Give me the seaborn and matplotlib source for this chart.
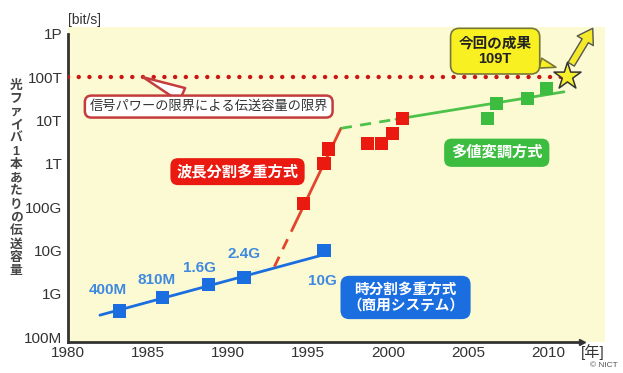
import matplotlib
matplotlib.use("Agg")
import matplotlib.pyplot as plt
from matplotlib.ticker import NullLocator
import seaborn as sns

# Time-division multiplexing (commercial systems)
tdm_years = [1983.2, 1985.9, 1988.8, 1991.0, 1996.0]
tdm_rates = [4e8, 8.1e8, 1.6e9, 2.4e9, 1e10]
tdm_labels = ["400M", "810M", "1.6G", "2.4G", "10G"]
tdm_label_offsets = [(-8, 15), (-4, 13), (-7, 12), (0, 17), (-1, -22)]
tdm_trend_years = [1982.0, 1996.0]
tdm_trend_rates = [3.2e8, 8e9]

# Wavelength-division multiplexing
wdm_years = [1994.7, 1996.0, 1996.3, 1998.7, 1999.6, 2000.3, 2000.9]
wdm_rates = [1.2e11, 1.0e12, 2.2e12, 3.0e12, 2.9e12, 5.0e12, 1.1e13]
wdm_dash_years = [1992.9, 1994.1]
wdm_dash_rates = [4.2e9, 3.5e10]
wdm_trend_years = [1994.1, 1997.06]
wdm_trend_rates = [3.5e10, 6.6e12]

# Multi-level modulation
mlm_years = [2006.2, 2006.8, 2008.7, 2009.9]
mlm_rates = [1.1e13, 2.5e13, 3.2e13, 5.4e13]
mlm_dash_years = [1997.06, 2000.5]
mlm_dash_rates = [6.6e12, 1.07e13]
mlm_trend_years = [2000.5, 2011.0]
mlm_trend_rates = [1.07e13, 4.6e13]

# Record result and the signal-power limit
record_year = [2011.2]
record_rate = [1.09e14]
record_label = "今回の成果\n109T"
limit_rate = 1e14
limit_span = [1980.0, 2011.7]

ytick_vals = [1e8, 1e9, 1e10, 1e11, 1e12, 1e13, 1e14, 1e15]
ytick_labels = ["100M", "1G", "10G", "100G", "1T", "10T", "100T", "1P"]
xtick_vals = [1980, 1985, 1990, 1995, 2000, 2005, 2010]

BLUE = "#1a6ee0"
BLUE_TXT = "#3f8ae0"
RED = "#ea1a10"
RED_LINE = "#e2452c"
GREEN = "#3dbd3f"
GREEN_LINE = "#4cc24a"
DOT_RED = "#cc1616"
AXIS = "#333333"
PANEL = "#fcfad2"

sns.set_style("white")
plt.rcParams["font.family"] = ["Liberation Sans", "Noto Sans CJK JP"]

fig = plt.figure(figsize=(6.23, 3.73), dpi=100)
ax = fig.add_axes([0.109, 0.0831, 0.862, 0.8445])
ax.set_facecolor(PANEL)
ax.set_yscale("log")
ax.set_xlim(1980, 2013.56)
ax.set_ylim(10 ** 7.885, 10 ** 15.16)

# trend lines
sns.lineplot(x=tdm_trend_years, y=tdm_trend_rates, color=BLUE, lw=2, ax=ax, zorder=3)
sns.lineplot(x=wdm_dash_years, y=wdm_dash_rates, color=RED_LINE, lw=2,
             linestyle=(0, (4, 3)), ax=ax, zorder=3)
sns.lineplot(x=wdm_trend_years, y=wdm_trend_rates, color=RED_LINE, lw=2, ax=ax, zorder=3)
sns.lineplot(x=mlm_dash_years, y=mlm_dash_rates, color=GREEN_LINE, lw=2,
             linestyle=(0, (4, 3)), ax=ax, zorder=3)
sns.lineplot(x=mlm_trend_years, y=mlm_trend_rates, color=GREEN_LINE, lw=2, ax=ax, zorder=3)

# signal-power limit
ax.hlines(limit_rate, limit_span[0], limit_span[1], colors=DOT_RED, lw=3.2,
          linestyles=(0, (0.01, 2.4)), capstyle="round", zorder=3)

# measured points
sns.scatterplot(x=tdm_years, y=tdm_rates, marker="s", s=90, color=BLUE,
                edgecolor="none", ax=ax, zorder=4)
sns.scatterplot(x=wdm_years, y=wdm_rates, marker="s", s=90, color=RED,
                edgecolor="none", ax=ax, zorder=4)
sns.scatterplot(x=mlm_years, y=mlm_rates, marker="s", s=90, color=GREEN,
                edgecolor="none", ax=ax, zorder=4)

for yr, rate, lab, off in zip(tdm_years, tdm_rates, tdm_labels, tdm_label_offsets):
    ax.annotate(lab, (yr, rate), xytext=off, textcoords="offset points",
                ha="center", va="center", fontsize=11, fontweight="bold",
                color=BLUE_TXT, zorder=5)

# upward arrow and record star
ax.annotate("", xy=(2012.8, 10 ** 15.13), xytext=(2011.45, 10 ** 14.3),
            arrowprops=dict(arrowstyle="simple,head_length=0.7,head_width=0.9,tail_width=0.35",
                            mutation_scale=15, fc="#f4ea2a", ec="#555555", lw=1,
                            shrinkA=0, shrinkB=0),
            annotation_clip=False, zorder=5)
sns.scatterplot(x=record_year, y=record_rate, marker="*", s=420, color="#f7ef2c",
                edgecolor="#333333", linewidth=1.1, ax=ax, zorder=6)

ax.annotate(record_label, xy=(2010.5, 1.7e14), xytext=(2006.7, 4e14),
            ha="center", va="center", fontsize=10.5, fontweight="bold", color="#222222",
            linespacing=1.15,
            bbox=dict(boxstyle="round,pad=0.55,rounding_size=0.6", fc="#f8f020",
                      ec="#77773a", lw=1.2),
            arrowprops=dict(arrowstyle="wedge,tail_width=0.7,shrink_factor=0.5",
                            fc="#f8f020", ec="#77773a", lw=1.2, shrinkA=0, shrinkB=0),
            zorder=6)

ax.annotate("信号パワーの限界による伝送容量の限界", xy=(1984.7, limit_rate),
            xytext=(1988.8, 2.1e13), ha="center", va="center", fontsize=9.5,
            color="#333333",
            bbox=dict(boxstyle="round,pad=0.35,rounding_size=0.5", fc="white",
                      ec="#c43c3c", lw=1.8),
            arrowprops=dict(arrowstyle="wedge,tail_width=1.1,shrink_factor=0.5",
                            fc="white", ec="#c43c3c", lw=1.8, shrinkA=0, shrinkB=0),
            zorder=5)

# method labels
ax.text(1990.6, 6.6e11, "波長分割多重方式", ha="center", va="center", fontsize=11,
        fontweight="bold", color="white", zorder=5,
        bbox=dict(boxstyle="round,pad=0.4,rounding_size=0.5", fc=RED, ec="none"))
ax.text(2006.8, 1.8e12, "多値変調方式", ha="center", va="center", fontsize=11,
        fontweight="bold", color="white", zorder=5,
        bbox=dict(boxstyle="round,pad=0.45,rounding_size=0.5", fc=GREEN, ec="none"))
ax.text(2001.1, 8.2e8, "時分割多重方式\n（商用システム）", ha="center", va="center",
        fontsize=10.5, fontweight="bold", color="white", linespacing=1.2, zorder=5,
        bbox=dict(boxstyle="round,pad=0.45,rounding_size=0.6", fc=BLUE, ec="none"))

# axes styling
for side in ("top", "right"):
    ax.spines[side].set_visible(False)
for side in ("left", "bottom"):
    ax.spines[side].set_color(AXIS)
    ax.spines[side].set_linewidth(2)
ax.spines["left"].set_bounds(10 ** 7.885, 1e15)
ax.spines["bottom"].set_bounds(1980, 2012.1)
ax.plot([2012.1], [0], marker=">", ms=5, color=AXIS, transform=ax.get_xaxis_transform(),
        clip_on=False, zorder=7)

ax.set_yticks(ytick_vals, ytick_labels)
ax.set_xticks(xtick_vals, [str(v) for v in xtick_vals])
ax.yaxis.set_minor_locator(NullLocator())
ax.xaxis.set_minor_locator(NullLocator())
ax.tick_params(axis="y", direction="in", length=9, width=2, color=AXIS,
               labelsize=11, labelcolor="#333333", pad=4)
ax.tick_params(axis="x", direction="in", length=5, width=1.8, color=AXIS,
               labelsize=11, labelcolor="#333333", pad=3)
ax.set_xlabel("")
ax.set_ylabel("")

# vertical axis title, one character per line
ylab = "光ファイバ1本あたりの伝送容量"
fig.text(0.026, 0.522, "\n".join(ylab), ha="center", va="center", fontsize=9.2,
         fontweight="bold", color="#444444", linespacing=1.14)
fig.text(0.135, 0.946, "[bit/s]", ha="center", va="center", fontsize=10, color="#333333")
fig.text(0.952, 0.056, "[年]", ha="center", va="center", fontsize=11, color="#333333")
fig.text(0.970, 0.019, "© NICT", ha="center", va="center", fontsize=6, color="#555555")

fig.savefig("out.png", dpi=100)
